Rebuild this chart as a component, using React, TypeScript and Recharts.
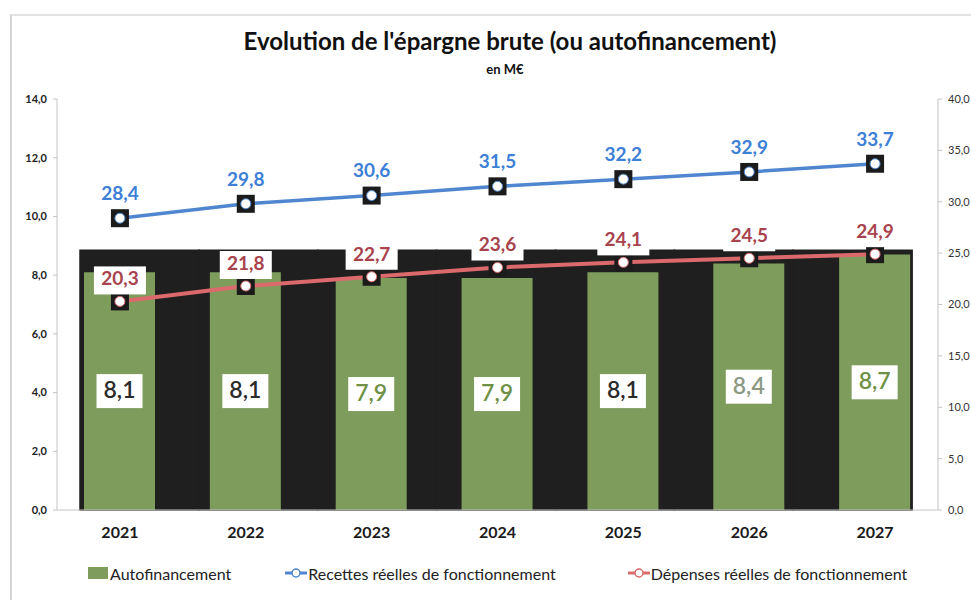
import React from 'react';
import {
  ComposedChart,
  Bar,
  Line,
  XAxis,
  YAxis,
  Legend,
  LabelList,
} from 'recharts';

const years = ['2021', '2022', '2023', '2024', '2025', '2026', '2027'];
const autofinancement = [8.1, 8.1, 7.9, 7.9, 8.1, 8.4, 8.7];
const recettes = [28.4, 29.8, 30.6, 31.5, 32.2, 32.9, 33.7];
const depenses = [20.3, 21.8, 22.7, 23.6, 24.1, 24.5, 24.9];
// dark scanned background band behind the bars (left-axis units)
const zoneSombre = [8.85, 8.85, 8.85, 8.85, 8.85, 8.85, 8.85];
const leftTicks = [0, 2, 4, 6, 8, 10, 12, 14];
const rightTicks = [0, 5, 10, 15, 20, 25, 30, 35, 40];

const barLabelColors = ['#2b2b2b', '#2b2b2b', '#6f9146', '#6f9146', '#2b2b2b', '#8c9884', '#6f9146'];

const GREEN = '#7e9c5c';
const BLUE = '#4f86cf';
const BLUE_TEXT = '#3d80d6';
const RED = '#dc6a6c';
const RED_TEXT = '#a8434d';
const DARK = '#1f1f1f';
const FONT = 'Lato, "Open Sans", sans-serif';

const data = years.map((y, i) => ({
  year: y,
  auto: autofinancement[i],
  rec: recettes[i],
  dep: depenses[i],
  fond: zoneSombre[i],
}));

const fmt = (v: number) => v.toFixed(1).replace('.', ',');

const makeDot = (color: string) => (props: any) => {
  const { cx, cy, index } = props;
  if (cx == null || cy == null) return null;
  return (
    <g key={`d-${color}-${index}`}>
      <rect x={cx - 9} y={cy - 9} width={18} height={18} fill="#1b1b1b" />
      <circle cx={cx} cy={cy} r={5} fill="#ffffff" stroke={color} strokeWidth={1} />
    </g>
  );
};

const BarLabel = (props: any) => {
  const { x, y, width, height, value, index } = props;
  const cx = x + width / 2;
  const cy = y + height / 2;
  return (
    <g>
      <rect x={cx - 23} y={cy - 17} width={46} height={34} fill="#ffffff" />
      <text
        x={cx}
        y={cy + 1}
        textAnchor="middle"
        dominantBaseline="middle"
        fontFamily={FONT}
        fontSize={23}
        fontWeight={600}
        fill={barLabelColors[index]}
      >
        {fmt(value)}
      </text>
    </g>
  );
};

const RecLabel = (props: any) => {
  const { x, y, value } = props;
  return (
    <text
      x={x}
      y={y - 23}
      textAnchor="middle"
      dominantBaseline="middle"
      fontFamily={FONT}
      fontSize={19}
      fontWeight={700}
      fill={BLUE_TEXT}
    >
      {fmt(value)}
    </text>
  );
};

const DepLabel = (props: any) => {
  const { x, y, value } = props;
  return (
    <g>
      <rect x={x - 26} y={y - 35} width={52} height={28} fill="#ffffff" />
      <text
        x={x}
        y={y - 21}
        textAnchor="middle"
        dominantBaseline="middle"
        fontFamily={FONT}
        fontSize={19}
        fontWeight={700}
        fill={RED_TEXT}
      >
        {fmt(value)}
      </text>
    </g>
  );
};

const LegendContent = () => {
  const item: React.CSSProperties = {
    display: 'flex',
    alignItems: 'center',
    fontFamily: FONT,
    fontSize: 16,
    color: '#222',
    whiteSpace: 'nowrap',
  };
  const lineMarker = (color: string) => (
    <svg width={22} height={12} style={{ marginRight: 1 }}>
      <line x1={0} y1={6} x2={22} y2={6} stroke={color} strokeWidth={3} />
      <circle cx={11} cy={6} r={4} fill="#fff" stroke={color} strokeWidth={1.5} />
    </svg>
  );
  return (
    <div style={{ display: 'flex', alignItems: 'center', paddingLeft: 88, height: 26 }}>
      <div style={item}>
        <span style={{ display: 'inline-block', width: 20, height: 12, background: GREEN, marginRight: 2 }} />
        Autofinancement
      </div>
      <div style={{ ...item, marginLeft: 54 }}>
        {lineMarker(BLUE)}
        Recettes réelles de fonctionnement
      </div>
      <div style={{ ...item, marginLeft: 72 }}>
        {lineMarker(RED)}
        Dépenses réelles de fonctionnement
      </div>
    </div>
  );
};

export default function App() {
  return (
    <div style={{ position: 'absolute', left: 0, top: 0, width: 971, height: 600, background: '#fff', overflow: 'hidden' }}>
      <div
        style={{
          position: 'absolute',
          left: 10,
          top: 14,
          width: 961,
          height: 586,
          borderLeft: '2px solid #d4d4d4',
          borderTop: '2px solid #e2e2e2',
        }}
      />
      <div
        style={{
          position: 'absolute',
          left: 50,
          width: 920,
          top: 26,
          textAlign: 'center',
          fontFamily: FONT,
          fontWeight: 700,
          fontSize: 24,
          color: '#111',
        }}
      >
        Evolution de l'épargne brute (ou autofinancement)
      </div>
      <div
        style={{
          position: 'absolute',
          left: 50,
          width: 910,
          top: 61,
          textAlign: 'center',
          fontFamily: FONT,
          fontWeight: 700,
          fontSize: 13,
          color: '#111',
        }}
      >
        en M€
      </div>
      <div style={{ position: 'absolute', left: 0, top: 0 }}>
        <ComposedChart
          width={971}
          height={600}
          data={data}
          barCategoryGap={0}
          margin={{ top: 99, right: 0, bottom: 60, left: 0 }}
        >
          <XAxis
            dataKey="year"
            axisLine={{ stroke: '#c4c4c4' }}
            tickLine={false}
            tickMargin={11}
            tick={{ fontFamily: FONT, fontSize: 16, fontWeight: 700, fill: '#1a1a1a' }}
            height={30}
          />
          <XAxis xAxisId="bg" dataKey="year" hide padding={{ left: 23, right: 26 }} />
          <YAxis
            yAxisId="left"
            domain={[0, 14]}
            ticks={leftTicks}
            width={57}
            tickSize={4}
            tickMargin={6}
            axisLine={{ stroke: '#c4c4c4' }}
            tickLine={{ stroke: '#c4c4c4' }}
            tickFormatter={fmt}
            tick={{ fontFamily: FONT, fontSize: 11, fontWeight: 700, fill: '#222' }}
          />
          <YAxis
            yAxisId="right"
            orientation="right"
            domain={[0, 40]}
            ticks={rightTicks}
            width={33}
            tickSize={4}
            tickMargin={6}
            axisLine={{ stroke: '#c4c4c4' }}
            tickLine={{ stroke: '#c4c4c4' }}
            tickFormatter={fmt}
            tick={{ fontFamily: FONT, fontSize: 11, fill: '#333' }}
          />
          <Bar
            xAxisId="bg"
            yAxisId="left"
            dataKey="fond"
            fill={DARK}
            stroke={DARK}
            strokeWidth={1.5}
            isAnimationActive={false}
            legendType="none"
          />
          <Bar
            yAxisId="left"
            dataKey="auto"
            name="Autofinancement"
            fill={GREEN}
            barSize={71}
            isAnimationActive={false}
          >
            <LabelList dataKey="auto" content={BarLabel} />
          </Bar>
          <Line
            yAxisId="right"
            dataKey="rec"
            name="Recettes réelles de fonctionnement"
            stroke={BLUE}
            strokeWidth={3.5}
            dot={makeDot(BLUE)}
            activeDot={false}
            isAnimationActive={false}
          >
            <LabelList dataKey="rec" content={RecLabel} />
          </Line>
          <Line
            yAxisId="right"
            dataKey="dep"
            name="Dépenses réelles de fonctionnement"
            stroke={RED}
            strokeWidth={4}
            dot={makeDot(RED)}
            activeDot={false}
            isAnimationActive={false}
          >
            <LabelList dataKey="dep" content={DepLabel} />
          </Line>
          <Legend
            layout="horizontal"
            verticalAlign="middle"
            align="center"
            content={LegendContent}
            wrapperStyle={{ top: 560, left: 0, width: 971 }}
          />
        </ComposedChart>
      </div>
    </div>
  );
}
